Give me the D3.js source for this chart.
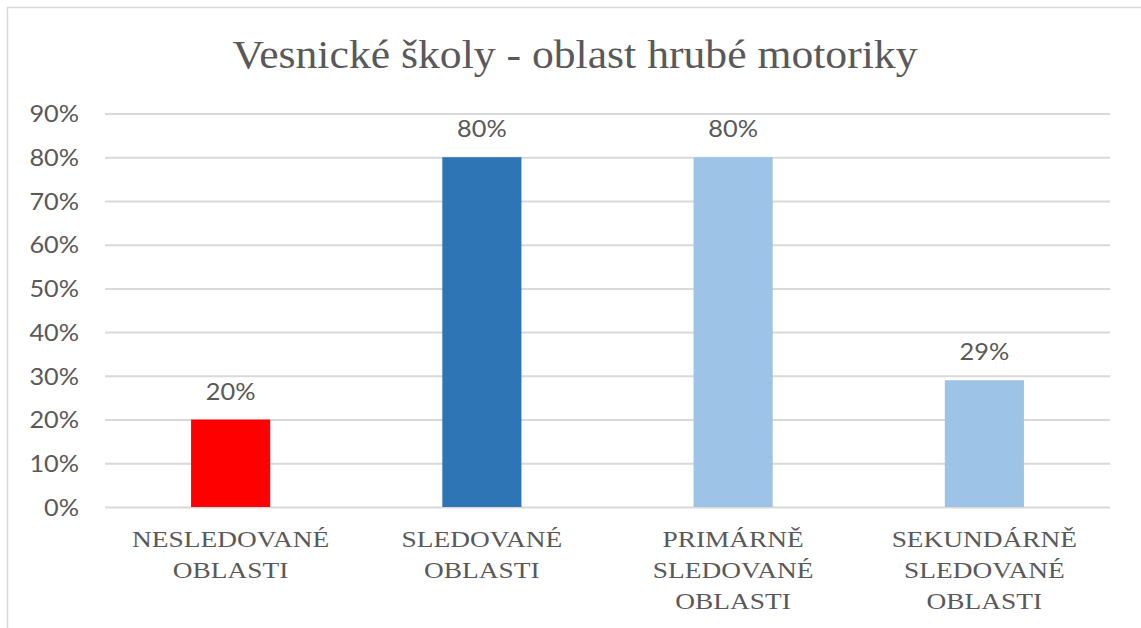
<!DOCTYPE html>
<html><head><meta charset="utf-8">
<script src="https://cdn.jsdelivr.net/npm/d3@7"></script>
<style>
html,body{margin:0;padding:0;background:#fff;}
svg{display:block;}
</style></head>
<body>
<svg id="chart" width="1141" height="628"></svg>
<script>
const title = "Vesnické školy - oblast hrubé motoriky";
const categories = [
  ["NESLEDOVANÉ", "OBLASTI"],
  ["SLEDOVANÉ", "OBLASTI"],
  ["PRIMÁRNĚ", "SLEDOVANÉ", "OBLASTI"],
  ["SEKUNDÁRNĚ", "SLEDOVANÉ", "OBLASTI"]
];
const values = [0.20, 0.80, 0.80, 0.29];
const colors = ["#FF0000", "#2E75B6", "#9DC3E6", "#9DC3E6"];
const yTicks = [0, 0.1, 0.2, 0.3, 0.4, 0.5, 0.6, 0.7, 0.8, 0.9];

const svg = d3.select("#chart");
const W = 1141, H = 628;
const m = {left: 105, right: 1110, top: 113.5, bottom: 507};
const serif = "'Liberation Serif', 'Times New Roman', serif";
const sans = "Lato, sans-serif";

// chart border
svg.append("path")
  .attr("d", `M7.5,${H} L7.5,7.5 L${W},7.5`)
  .attr("fill", "none").attr("stroke", "#d9d9d9").attr("stroke-width", 1.5);

const x = d3.scaleBand().domain(d3.range(categories.length))
  .range([m.left, m.right]).paddingInner(0.685).paddingOuter(0.3425);
const y = d3.scaleLinear().domain([0, 0.9]).range([m.bottom, m.top]);

// gridlines
const grid = svg.append("g").attr("transform", `translate(${m.left},0)`)
  .call(d3.axisLeft(y).tickValues(yTicks).tickSize(-(m.right - m.left)).tickFormat(""));
grid.select(".domain").remove();
grid.selectAll("line").attr("stroke", "#d9d9d9").attr("stroke-width", 2);

function stretch(sel, k) {
  sel.each(function() {
    const w = this.getComputedTextLength();
    d3.select(this).attr("textLength", w * k).attr("lengthAdjust", "spacingAndGlyphs");
  });
}

// y labels
const ya = svg.append("g").attr("transform", `translate(79,0)`)
  .call(d3.axisLeft(y).tickValues(yTicks).tickSize(0).tickPadding(0).tickFormat(d3.format(".0%")));
ya.select(".domain").remove();
ya.selectAll("text").attr("font-family", sans).attr("font-size", 23)
  .attr("fill", "#595959").attr("dy", "0.36em");
stretch(ya.selectAll("text"), 1.1);

// bars
svg.append("g").selectAll("rect").data(values).join("rect")
  .attr("x", (d, i) => x(i)).attr("width", x.bandwidth())
  .attr("y", d => y(d)).attr("height", d => y(0) - y(d))
  .attr("fill", (d, i) => colors[i]);

// data labels
const dl = svg.append("g").selectAll("text").data(values).join("text")
  .attr("x", (d, i) => x(i) + x.bandwidth() / 2).attr("y", d => y(d) - 20)
  .attr("text-anchor", "middle").attr("font-family", sans).attr("font-size", 23)
  .attr("fill", "#595959").text(d3.format(".0%"));
stretch(dl, 1.1);

// x labels (one text per line)
const lines = [];
categories.forEach((c, i) => c.forEach((t, j) => lines.push({i, j, t})));
const xl = svg.append("g").selectAll("text").data(lines).join("text")
  .attr("x", d => x(d.i) + x.bandwidth() / 2).attr("y", d => 547 + d.j * 31)
  .attr("text-anchor", "middle").attr("font-family", serif)
  .attr("font-size", 24).attr("fill", "#595959").text(d => d.t);
stretch(xl, 1.14);

// title
const tt = svg.append("text").attr("x", 575).attr("y", 68).attr("text-anchor", "middle")
  .attr("font-family", serif).attr("font-size", 40)
  .attr("fill", "#595959").text(title)
  .attr("textLength", 685).attr("lengthAdjust", "spacingAndGlyphs");
</script>
</body></html>
